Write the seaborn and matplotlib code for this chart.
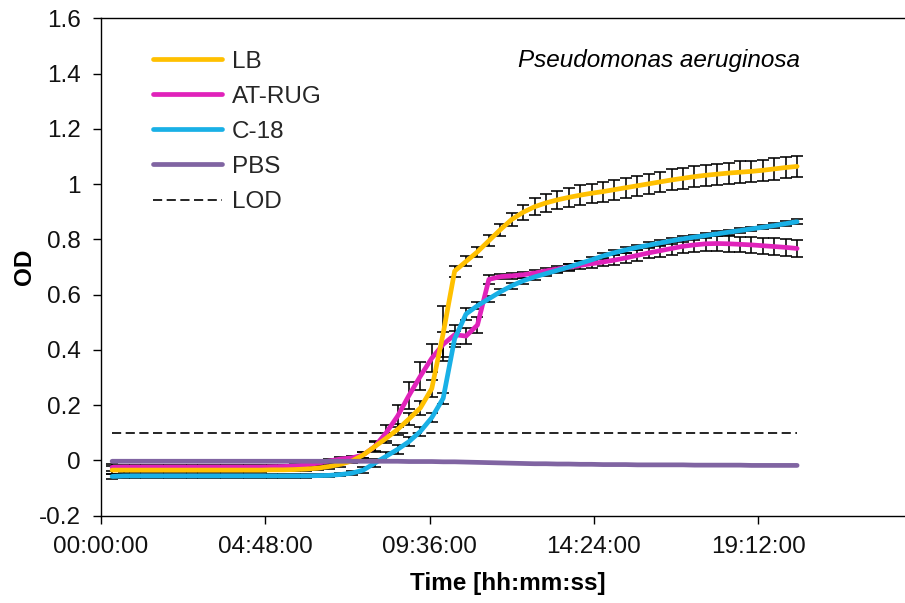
import numpy as np
import pandas as pd
import matplotlib
matplotlib.use("Agg")
import matplotlib.pyplot as plt
import seaborn as sns

# ---------------- data ----------------
minutes = [20, 40, 60, 80, 100, 120, 140, 160, 180, 200,
           220, 240, 260, 280, 300, 320, 340, 360, 380, 400,
           420, 440, 460, 480, 500, 520, 540, 560, 580, 600,
           620, 640, 660, 680, 700, 720, 740, 760, 780, 800,
           820, 840, 860, 880, 900, 920, 940, 960, 980, 1000,
           1020, 1040, 1060, 1080, 1100, 1120, 1140, 1160, 1180, 1200,
           1220]

lb = [-0.035, -0.035, -0.035, -0.035, -0.035, -0.035, -0.035, -0.035, -0.035, -0.035,
      -0.035, -0.035, -0.035, -0.035, -0.034, -0.034, -0.033, -0.031, -0.028, -0.022,
      -0.014, -0.002, 0.020, 0.050, 0.080, 0.112, 0.150, 0.190, 0.260, 0.460,
      0.685, 0.720, 0.755, 0.795, 0.835, 0.872, 0.898, 0.918, 0.932, 0.943,
      0.952, 0.960, 0.967, 0.973, 0.980, 0.987, 0.994, 1.001, 1.008, 1.015,
      1.021, 1.027, 1.032, 1.036, 1.040, 1.043, 1.046, 1.050, 1.055, 1.060,
      1.064]
lb_err = [0.015, 0.010, 0.006, 0.006, 0.006, 0.006, 0.006, 0.006, 0.006, 0.006,
          0.006, 0.006, 0.006, 0.006, 0.006, 0.006, 0.006, 0.008, 0.008, 0.008,
          0.008, 0.008, 0.012, 0.015, 0.018, 0.020, 0.022, 0.025, 0.030, 0.100,
          0.020, 0.018, 0.018, 0.020, 0.022, 0.025, 0.028, 0.030, 0.032, 0.033,
          0.034, 0.035, 0.035, 0.036, 0.036, 0.036, 0.037, 0.037, 0.037, 0.038,
          0.038, 0.038, 0.038, 0.038, 0.038, 0.039, 0.039, 0.039, 0.039, 0.039,
          0.039]

at_rug = [-0.025, -0.024, -0.024, -0.024, -0.024, -0.024, -0.024, -0.024, -0.024, -0.024,
          -0.024, -0.024, -0.024, -0.024, -0.023, -0.022, -0.020, -0.016, -0.010, -0.002,
          0.005, 0.009, 0.020, 0.050, 0.100, 0.160, 0.235, 0.305, 0.370, 0.420,
          0.455, 0.450, 0.490, 0.655, 0.665, 0.668, 0.672, 0.678, 0.686, 0.693,
          0.699, 0.706, 0.712, 0.718, 0.725, 0.733, 0.742, 0.751, 0.759, 0.767,
          0.775, 0.780, 0.784, 0.785, 0.784, 0.782, 0.780, 0.777, 0.774, 0.771,
          0.767]
at_rug_err = [0.012, 0.006, 0.006, 0.006, 0.006, 0.006, 0.006, 0.006, 0.006, 0.006,
              0.006, 0.006, 0.006, 0.006, 0.006, 0.006, 0.006, 0.008, 0.008, 0.008,
              0.008, 0.008, 0.012, 0.020, 0.030, 0.040, 0.048, 0.050, 0.050, 0.045,
              0.035, 0.030, 0.030, 0.015, 0.010, 0.010, 0.010, 0.011, 0.011, 0.012,
              0.012, 0.014, 0.015, 0.016, 0.017, 0.018, 0.019, 0.020, 0.022, 0.023,
              0.024, 0.025, 0.026, 0.027, 0.028, 0.028, 0.029, 0.029, 0.030, 0.030,
              0.030]

c18 = [-0.058, -0.056, -0.056, -0.056, -0.056, -0.056, -0.056, -0.056, -0.056, -0.056,
       -0.056, -0.056, -0.056, -0.056, -0.056, -0.056, -0.056, -0.056, -0.055, -0.054,
       -0.051, -0.046, -0.035, -0.010, 0.015, 0.040, 0.068, 0.105, 0.155, 0.225,
       0.440, 0.530, 0.560, 0.585, 0.610, 0.632, 0.650, 0.664, 0.676, 0.688,
       0.700, 0.713, 0.726, 0.740, 0.752, 0.762, 0.771, 0.779, 0.787, 0.795,
       0.802, 0.808, 0.814, 0.820, 0.826, 0.832, 0.838, 0.844, 0.850, 0.857,
       0.864]
c18_err = [0.010, 0.006, 0.006, 0.006, 0.006, 0.006, 0.006, 0.006, 0.006, 0.006,
           0.006, 0.006, 0.006, 0.006, 0.006, 0.006, 0.006, 0.006, 0.006, 0.006,
           0.006, 0.006, 0.010, 0.015, 0.015, 0.015, 0.015, 0.015, 0.015, 0.020,
           0.030, 0.020, 0.012, 0.010, 0.010, 0.010, 0.010, 0.010, 0.010, 0.010,
           0.010, 0.010, 0.010, 0.010, 0.010, 0.010, 0.010, 0.010, 0.010, 0.010,
           0.010, 0.009, 0.009, 0.009, 0.009, 0.009, 0.008, 0.008, 0.008, 0.008,
           0.008]

pbs = [-0.003, -0.003, -0.003, -0.003, -0.003, -0.003, -0.003, -0.003, -0.003, -0.003,
       -0.003, -0.003, -0.003, -0.003, -0.003, -0.003, -0.003, -0.003, -0.003, -0.003,
       -0.003, -0.003, -0.003, -0.003, -0.003, -0.003, -0.004, -0.004, -0.004, -0.005,
       -0.005, -0.006, -0.007, -0.008, -0.009, -0.010, -0.011, -0.012, -0.012, -0.013,
       -0.013, -0.014, -0.014, -0.015, -0.015, -0.015, -0.016, -0.016, -0.016, -0.016,
       -0.016, -0.017, -0.017, -0.017, -0.017, -0.017, -0.018, -0.018, -0.018, -0.018,
       -0.018]

lod_level = 0.1

series_names = ["LB", "AT-RUG", "C-18", "PBS"]
series_colors = {"LB": "#FFC000", "AT-RUG": "#E022BA", "C-18": "#19B0E6", "PBS": "#8064A2"}

xtick_hours = [0.0, 4.8, 9.6, 14.4, 19.2]
xtick_labels = ["00:00:00", "04:48:00", "09:36:00", "14:24:00", "19:12:00"]
ytick_values = [-0.2, 0.0, 0.2, 0.4, 0.6, 0.8, 1.0, 1.2, 1.4, 1.6]
ytick_labels = ["-0.2", "0", "0.2", "0.4", "0.6", "0.8", "1", "1.2", "1.4", "1.6"]

# ---------------- figure ----------------
sns.set_theme(style="ticks")
plt.rcParams["font.family"] = ["Liberation Sans", "DejaVu Sans"]
FS = 17.5

W, H = 905, 603
fig = plt.figure(figsize=(W / 100, H / 100), dpi=100)
ax_left, ax_right, ax_top, ax_bottom = 100.7, 922.7, 18.3, 515.7
ax = fig.add_axes([ax_left / W, (H - ax_bottom) / H,
                   (ax_right - ax_left) / W, (ax_bottom - ax_top) / H])

hours = np.array(minutes) / 60.0
df = pd.DataFrame({"hours": hours, "LB": lb, "AT-RUG": at_rug, "C-18": c18, "PBS": pbs})
errs = {"LB": lb_err, "AT-RUG": at_rug_err, "C-18": c18_err}

# error bars first (below lines)
for name in ["AT-RUG", "LB", "C-18"]:
    ax.errorbar(df["hours"], df[name], yerr=errs[name], fmt="none", ecolor="black",
                elinewidth=1.15, capsize=4, capthick=1.15, zorder=2)

handles = {}
for name in ["AT-RUG", "LB", "C-18", "PBS"]:
    sns.lineplot(data=df, x="hours", y=name, color=series_colors[name], linewidth=3.4,
                 ax=ax, zorder=3, solid_capstyle="round")
    handles[name] = ax.lines[-1]

sns.lineplot(x=[hours[0], hours[-1]], y=[lod_level, lod_level], color="black",
             linewidth=1.2, linestyle=(0, (5.5, 2.7)), ax=ax, zorder=2.5)
handles["LOD"] = ax.lines[-1]

ax.set_xlim(0, 24)
ax.set_ylim(-0.2, 1.6)
ax.set_xticks(xtick_hours)
ax.set_xticklabels(xtick_labels)
ax.set_yticks(ytick_values)
ax.set_yticklabels(ytick_labels)
ax.tick_params(axis="both", direction="out", length=5.5, width=1.0, color="black",
               labelsize=FS, pad=9, labelcolor="#111111", bottom=True, left=True)

for side in ["left", "bottom", "top"]:
    ax.spines[side].set_visible(True)
    ax.spines[side].set_color("black")
    ax.spines[side].set_linewidth(1.0)
ax.spines["right"].set_visible(False)

ax.set_xlabel("Time [hh:mm:ss]", fontsize=FS, fontweight="bold", color="black")
ax.xaxis.set_label_coords((507.5 - ax_left) / (ax_right - ax_left), -0.113)
ax.set_ylabel("OD", fontsize=FS, fontweight="bold", color="black")
ax.yaxis.set_label_coords((36 - ax_left) / (ax_right - ax_left), 0.5)

leg_order = ["LB", "AT-RUG", "C-18", "PBS", "LOD"]
ax.legend([handles[k] for k in leg_order], leg_order, loc="upper left",
          bbox_to_anchor=(153 / W, 1 - 50.5 / H), bbox_transform=fig.transFigure,
          frameon=False, fontsize=FS, handlelength=2.85, handletextpad=0.38,
          labelspacing=0.54, borderpad=0, borderaxespad=0)

fig.text(800 / W, 1 - 66.7 / H, "Pseudomonas aeruginosa", ha="right", va="baseline",
         fontsize=FS, style="italic", color="black")

fig.savefig("out.png", dpi=100)
